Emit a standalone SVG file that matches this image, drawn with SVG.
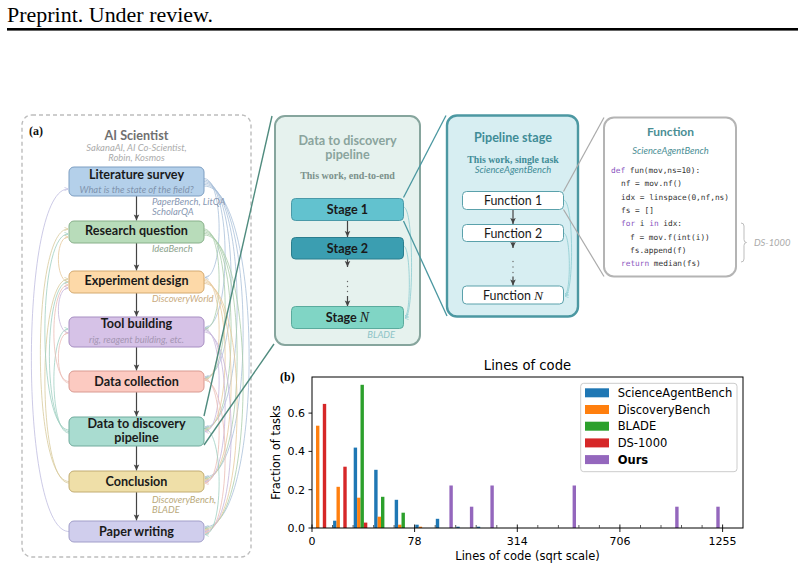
<svg xmlns="http://www.w3.org/2000/svg" width="804" height="570" viewBox="0 0 804 570">
<style>
.t{font-family:Lato,"Liberation Sans",sans-serif}
.b{font-weight:bold}
.it{font-style:italic}
.box{font-family:Lato,"Liberation Sans",sans-serif;font-weight:bold;font-size:12.6px;fill:#1a1a1a;text-anchor:middle}
.sub{font-family:Lato,"Liberation Sans",sans-serif;font-style:italic;font-size:9.4px;text-anchor:middle}
.bench{font-family:Lato,"Liberation Sans",sans-serif;font-style:italic;font-size:9.4px}
.srf{font-family:"Liberation Serif",serif}
.code{font-family:"DejaVu Sans Mono",monospace;font-size:7.8px;fill:#333}
.kw{fill:#8a55c0}
.ar{stroke:#444;stroke-width:1.2;fill:none;marker-end:url(#ah)}
.cv{fill:none;stroke-width:0.8}
.mpl{font-family:"DejaVu Sans",sans-serif;fill:#000}
.tk{stroke:#000;stroke-width:0.9}
</style>
<defs>
<marker id="ah" viewBox="0 0 8 8" refX="7.5" refY="4" markerWidth="6.5" markerHeight="6.5" markerUnits="userSpaceOnUse" orient="auto"><path d="M0,0.6 L7.5,4 L0,7.4 L1.8,4 Z" fill="#444"/></marker>
<marker id="m-b" viewBox="0 0 6 6" refX="5.5" refY="3" markerWidth="4.5" markerHeight="4.5" markerUnits="userSpaceOnUse" orient="auto"><path d="M0.5,0.5 L5.5,3 L0.5,5.5" fill="none" stroke="#a9c0d9" stroke-width="0.9"/></marker>
<marker id="m-g" viewBox="0 0 6 6" refX="5.5" refY="3" markerWidth="4.5" markerHeight="4.5" markerUnits="userSpaceOnUse" orient="auto"><path d="M0.5,0.5 L5.5,3 L0.5,5.5" fill="none" stroke="#a9cdaa" stroke-width="0.9"/></marker>
<marker id="m-o" viewBox="0 0 6 6" refX="5.5" refY="3" markerWidth="4.5" markerHeight="4.5" markerUnits="userSpaceOnUse" orient="auto"><path d="M0.5,0.5 L5.5,3 L0.5,5.5" fill="none" stroke="#e6c99c" stroke-width="0.9"/></marker>
<marker id="m-p" viewBox="0 0 6 6" refX="5.5" refY="3" markerWidth="4.5" markerHeight="4.5" markerUnits="userSpaceOnUse" orient="auto"><path d="M0.5,0.5 L5.5,3 L0.5,5.5" fill="none" stroke="#c6b5da" stroke-width="0.9"/></marker>
<marker id="m-r" viewBox="0 0 6 6" refX="5.5" refY="3" markerWidth="4.5" markerHeight="4.5" markerUnits="userSpaceOnUse" orient="auto"><path d="M0.5,0.5 L5.5,3 L0.5,5.5" fill="none" stroke="#ebbdb5" stroke-width="0.9"/></marker>
<marker id="m-t" viewBox="0 0 6 6" refX="5.5" refY="3" markerWidth="4.5" markerHeight="4.5" markerUnits="userSpaceOnUse" orient="auto"><path d="M0.5,0.5 L5.5,3 L0.5,5.5" fill="none" stroke="#9fcfc2" stroke-width="0.9"/></marker>
<marker id="m-y" viewBox="0 0 6 6" refX="5.5" refY="3" markerWidth="4.5" markerHeight="4.5" markerUnits="userSpaceOnUse" orient="auto"><path d="M0.5,0.5 L5.5,3 L0.5,5.5" fill="none" stroke="#d8ca9c" stroke-width="0.9"/></marker>
<marker id="m-l" viewBox="0 0 6 6" refX="5.5" refY="3" markerWidth="4.5" markerHeight="4.5" markerUnits="userSpaceOnUse" orient="auto"><path d="M0.5,0.5 L5.5,3 L0.5,5.5" fill="none" stroke="#bfbde0" stroke-width="0.9"/></marker>
<marker id="m-c" viewBox="0 0 6 6" refX="5.5" refY="3" markerWidth="4.5" markerHeight="4.5" markerUnits="userSpaceOnUse" orient="auto"><path d="M0.5,0.5 L5.5,3 L0.5,5.5" fill="none" stroke="#8ccbd1" stroke-width="0.9"/></marker>
</defs>
<rect width="804" height="570" fill="#fff"/>

<!-- header -->
<text x="7" y="21.5" class="srf" font-size="21" textLength="206" lengthAdjust="spacingAndGlyphs" fill="#000">Preprint. Under review.</text>
<rect x="7" y="28" width="791" height="2.6" fill="#000"/>

<!-- panel (a) frame -->
<g id="panel-a">
<rect x="22" y="115" width="229" height="442" rx="10" fill="none" stroke="#bdbdbd" stroke-width="1.4" stroke-dasharray="4,3"/>
<text x="29" y="135" class="srf b" font-size="12" fill="#111">(a)</text>
<text x="136.5" y="140" class="t b" font-size="12.6" fill="#707070" text-anchor="middle">AI Scientist</text>
<text x="136.5" y="151.3" class="sub" fill="#ababab">SakanaAI, AI Co-Scientist,</text>
<text x="136.5" y="161" class="sub" fill="#ababab">Robin, Kosmos</text>
</g>

<!-- container panels -->
<g id="n-d2d-panel">
<rect x="275" y="116" width="145" height="229" rx="10" fill="#e6f2ee" stroke="#86a59d" stroke-width="2"/>
<text x="347.5" y="145" class="t b" font-size="12.6" fill="#8aa49d" text-anchor="middle">Data to discovery</text>
<text x="347.5" y="158.5" class="t b" font-size="12.6" fill="#8aa49d" text-anchor="middle">pipeline</text>
<text x="347.5" y="178.5" class="srf b" font-size="10" fill="#7b918b" text-anchor="middle">This work, end-to-end</text>
<text x="395" y="337.5" class="bench" font-size="9.8" fill="#8cc3c6" text-anchor="end">BLADE</text>
</g>
<g id="n-stage-panel">
<rect x="447" y="115.5" width="131" height="201" rx="10" fill="#d7eef2" stroke="#4c98a2" stroke-width="2.4"/>
<text x="513" y="142" class="t b" font-size="12.6" fill="#3f8c97" text-anchor="middle">Pipeline stage</text>
<text x="513" y="163" class="srf b" font-size="9.8" fill="#3f8c97" text-anchor="middle">This work, single task</text>
<text x="513" y="173" class="sub" fill="#3f8c97">ScienceAgentBench</text>
</g>
<g id="n-function">
<rect x="604" y="117.5" width="132" height="159" rx="10" fill="#fff" stroke="#b4b4b4" stroke-width="2"/>
<text x="670.5" y="135.5" class="t b" font-size="12" fill="#4a8e94" text-anchor="middle">Function</text>
<text x="670.5" y="153.5" class="sub" font-size="9.7" fill="#4a8e94">ScienceAgentBench</text>
<text x="611" y="173" class="code"><tspan class="kw">def</tspan> fun(mov,ns=10):</text>
<text x="621" y="186.3" class="code">nf = mov.nf()</text>
<text x="621" y="199.6" class="code">idx = linspace(0,nf,ns)</text>
<text x="621" y="212.9" class="code">fs = []</text>
<text x="621" y="226.2" class="code"><tspan class="kw">for</tspan> i <tspan class="kw">in</tspan> idx:</text>
<text x="630" y="239.5" class="code">f = mov.f(int(i))</text>
<text x="630" y="252.8" class="code">fs.append(f)</text>
<text x="621" y="266.1" class="code"><tspan class="kw">return</tspan> median(fs)</text>
</g>
<g id="n-ds1000">
<path d="M741,223 Q744,223 744,226 L744,239.5 Q744,242.5 746.5,242.5 Q744,242.5 744,245.5 L744,259 Q744,262 741,262" fill="none" stroke="#bdbdbd" stroke-width="1"/>
<text x="754" y="245.5" class="bench" font-size="9.8" fill="#aaaaaa">DS-1000</text>
</g>

<g id="connectors">
<g class="cv">
<path d="M204,178.5 C224,178.5 224,277.5 205,277.5" stroke="#a9c0d9" marker-end="url(#m-b)"/>
<path d="M204,180 C232,180 232,327.5 205,327.5" stroke="#a9c0d9" marker-end="url(#m-b)"/>
<path d="M204,181.5 C240,181.5 240,377 205,377" stroke="#a9c0d9" marker-end="url(#m-b)"/>
<path d="M204,183 C248,183 248,427 205,427" stroke="#a9c0d9" marker-end="url(#m-b)"/>
<path d="M204,184.5 C256,184.5 256,477 205,477" stroke="#a9c0d9" marker-end="url(#m-b)"/>
<path d="M204,186 C264,186 264,527 205,527" stroke="#a9c0d9" marker-end="url(#m-b)"/>
<path d="M204,229 C224,229 224,329 205,329" stroke="#a9cdaa" marker-end="url(#m-g)"/>
<path d="M204,230.5 C232,230.5 232,378.5 205,378.5" stroke="#a9cdaa" marker-end="url(#m-g)"/>
<path d="M204,232 C240,232 240,428.5 205,428.5" stroke="#a9cdaa" marker-end="url(#m-g)"/>
<path d="M204,233.5 C248,233.5 248,478.5 205,478.5" stroke="#a9cdaa" marker-end="url(#m-g)"/>
<path d="M204,235 C256,235 256,528.5 205,528.5" stroke="#a9cdaa" marker-end="url(#m-g)"/>
<path d="M204,279 C224,279 224,380 205,380" stroke="#e6c99c" marker-end="url(#m-o)"/>
<path d="M204,280.5 C232,280.5 232,430 205,430" stroke="#e6c99c" marker-end="url(#m-o)"/>
<path d="M204,282 C240,282 240,480 205,480" stroke="#e6c99c" marker-end="url(#m-o)"/>
<path d="M204,283.5 C248,283.5 248,530 205,530" stroke="#e6c99c" marker-end="url(#m-o)"/>
<path d="M204,329 C224,329 224,431.5 205,431.5" stroke="#c6b5da" marker-end="url(#m-p)"/>
<path d="M204,330.5 C232,330.5 232,481.5 205,481.5" stroke="#c6b5da" marker-end="url(#m-p)"/>
<path d="M204,332 C240,332 240,531.5 205,531.5" stroke="#c6b5da" marker-end="url(#m-p)"/>
<path d="M204,378.5 C224,378.5 224,483 205,483" stroke="#ebbdb5" marker-end="url(#m-r)"/>
<path d="M204,380 C232,380 232,533 205,533" stroke="#ebbdb5" marker-end="url(#m-r)"/>
<path d="M204,428.5 C224,428.5 224,534.5 205,534.5" stroke="#9fcfc2" marker-end="url(#m-t)"/>
<path d="M69,531.5 C19,531.5 19,189 68,189" stroke="#bfbde0" marker-end="url(#m-l)"/>
<path d="M69,481.5 C31,481.5 31,229 68,229" stroke="#d8ca9c" marker-end="url(#m-y)"/>
<path d="M69,483 C37,483 37,279 68,279" stroke="#d8ca9c" marker-end="url(#m-y)"/>
<path d="M69,430 C37,430 37,234 68,234" stroke="#9fcfc2" marker-end="url(#m-t)"/>
<path d="M69,431.5 C43,431.5 43,282 68,282" stroke="#9fcfc2" marker-end="url(#m-t)"/>
<path d="M69,433 C49,433 49,329 68,329" stroke="#9fcfc2" marker-end="url(#m-t)"/>
<path d="M69,381.5 C49,381.5 49,285 68,285" stroke="#ebbdb5" marker-end="url(#m-r)"/>
<path d="M69,383 C55,383 55,333 68,333" stroke="#ebbdb5" marker-end="url(#m-r)"/>
<path d="M69,333 C55,333 55,288 68,288" stroke="#c6b5da" marker-end="url(#m-p)"/>
<path d="M69,282 C55,282 55,237 68,237" stroke="#e6c99c" marker-end="url(#m-o)"/>
<path d="M403.5,207 C414,207 414,318 405,318" stroke="#8ccbd1" marker-end="url(#m-c)"/>
<path d="M403.5,246 C411,246 411,316 405,316" stroke="#8ccbd1" marker-end="url(#m-c)"/>
<path d="M563.5,200 C574,200 574,296 565,296" stroke="#8ccbd1" marker-end="url(#m-c)"/>
<path d="M563.5,233 C571,233 571,294 565,294" stroke="#8ccbd1" marker-end="url(#m-c)"/>
</g>
<path class="ar" d="M136.5,196 V220.5"/>
<path class="ar" d="M136.5,243 V270.5"/>
<path class="ar" d="M136.5,293 V316.5"/>
<path class="ar" d="M136.5,347 V370.5"/>
<path class="ar" d="M136.5,392 V416.5"/>
<path class="ar" d="M136.5,446 V470.5"/>
<path class="ar" d="M136.5,492 V520.5"/>
<path class="ar" d="M347.5,220 V237"/>
<path class="ar" d="M347.5,259 V267"/>
<path class="ar" d="M347.5,296 V306.5"/>
<path class="ar" d="M513,209.5 V224"/>
<path class="ar" d="M513,241.5 V248"/>
<path class="ar" d="M513,276.5 V285.5"/>
<g fill="#666">
<circle cx="347.5" cy="281.5" r="0.7"/><circle cx="347.5" cy="286.5" r="0.7"/><circle cx="347.5" cy="291.5" r="0.7"/>
<circle cx="513" cy="261.5" r="0.7"/><circle cx="513" cy="267" r="0.7"/><circle cx="513" cy="272.5" r="0.7"/>
</g>
<path d="M204,416 L272,116" stroke="#4f8b7e" stroke-width="1.4" fill="none"/>
<path d="M204,445 L274,344" stroke="#4f8b7e" stroke-width="1.4" fill="none"/>
<path d="M403.5,197.5 L446,115.5" stroke="#4a97a0" stroke-width="1.3" fill="none"/>
<path d="M403.5,221 L447,316" stroke="#4a97a0" stroke-width="1.3" fill="none"/>
<path d="M563.5,191.5 L604,117.5" stroke="#aaaaaa" stroke-width="1.2" fill="none"/>
<path d="M563.5,209.5 L604,276.5" stroke="#aaaaaa" stroke-width="1.2" fill="none"/>
</g>

<g id="n-literature">
<rect x="69" y="167" width="135" height="29" rx="5" fill="#b4d0ea" stroke="#7d9ec2" stroke-width="1"/>
<text x="136.5" y="178.5" class="box">Literature survey</text>
<text x="136.5" y="192.5" class="sub" font-size="10" fill="#7f93ad">What is the state of the field?</text>
<text x="152" y="204.5" class="bench" fill="#8797b2">PaperBench, LitQA</text>
<text x="152" y="214.5" class="bench" fill="#8797b2">ScholarQA</text>
</g>
<g id="n-research">
<rect x="69" y="221" width="135" height="22" rx="5" fill="#b8dcba" stroke="#88b08a" stroke-width="1"/>
<text x="136.5" y="235" class="box">Research question</text>
<text x="152" y="252" class="bench" fill="#8ea48e">IdeaBench</text>
</g>
<g id="n-experiment">
<rect x="69" y="271" width="135" height="22" rx="5" fill="#fdd9a8" stroke="#d4aa70" stroke-width="1"/>
<text x="136.5" y="285" class="box">Experiment design</text>
<text x="152" y="302" class="bench" fill="#c9ab80">DiscoveryWorld</text>
</g>
<g id="n-tool">
<rect x="69" y="317" width="135" height="30" rx="5" fill="#d6c2e7" stroke="#a78ec2" stroke-width="1"/>
<text x="136.5" y="328" class="box">Tool building</text>
<text x="136.5" y="343" class="sub" fill="#a596b3">rig, reagent building, etc.</text>
</g>
<g id="n-collection">
<rect x="69" y="371" width="135" height="21" rx="5" fill="#fccac1" stroke="#d99a91" stroke-width="1"/>
<text x="136.5" y="385.5" class="box">Data collection</text>
</g>
<g id="n-pipeline">
<rect x="69" y="417" width="135" height="29" rx="5" fill="#a9dcd0" stroke="#70ab9d" stroke-width="1"/>
<text x="136.5" y="428" class="box">Data to discovery</text>
<text x="136.5" y="441.5" class="box">pipeline</text>
</g>
<g id="n-conclusion">
<rect x="69" y="471" width="135" height="21" rx="5" fill="#efdfa8" stroke="#c2ac72" stroke-width="1"/>
<text x="136.5" y="485.5" class="box">Conclusion</text>
<text x="152" y="502.5" class="bench" fill="#b9a97b">DiscoveryBench,</text>
<text x="152" y="512.8" class="bench" fill="#b9a97b">BLADE</text>
</g>
<g id="n-paper">
<rect x="69" y="521" width="135" height="21" rx="5" fill="#d0ceed" stroke="#a19ec9" stroke-width="1"/>
<text x="136.5" y="535.5" class="box">Paper writing</text>
</g>

<g id="n-stage1">
<rect x="291.5" y="198.5" width="112" height="22" rx="4" fill="#62c2cf" stroke="#4a9aa8" stroke-width="1"/>
<text x="347.5" y="214" class="box" font-size="13.2">Stage 1</text>
</g>
<g id="n-stage2">
<rect x="291.5" y="237.5" width="112" height="21.5" rx="4" fill="#3b9eb1" stroke="#2b7e8e" stroke-width="1"/>
<text x="347.5" y="252.5" class="box" font-size="13.2">Stage 2</text>
</g>
<g id="n-stageN">
<rect x="291.5" y="306.5" width="112" height="22" rx="4" fill="#80d5c5" stroke="#5aab9d" stroke-width="1"/>
<text x="347.5" y="322" class="box" font-size="13.2">Stage <tspan class="srf it" font-weight="normal" font-size="14">N</tspan></text>
</g>

<g id="n-func1">
<rect x="462.5" y="191.5" width="101" height="18" rx="4" fill="#fff" stroke="#5aa1ab" stroke-width="1"/>
<text x="513" y="205" class="t" font-size="12.4" fill="#1a1a1a" text-anchor="middle">Function 1</text>
</g>
<g id="n-func2">
<rect x="462.5" y="224.5" width="101" height="17" rx="4" fill="#fff" stroke="#5aa1ab" stroke-width="1"/>
<text x="513" y="237.5" class="t" font-size="12.4" fill="#1a1a1a" text-anchor="middle">Function 2</text>
</g>
<g id="n-funcN">
<rect x="462.5" y="286" width="101" height="18" rx="4" fill="#fff" stroke="#5aa1ab" stroke-width="1"/>
<text x="513" y="299.5" class="t" font-size="12.4" fill="#1a1a1a" text-anchor="middle">Function <tspan class="srf it" font-size="13.5">N</tspan></text>
</g>

<g id="chart">
<text x="280" y="380.5" class="srf b" font-size="12" fill="#000">(b)</text>
<text x="527.5" y="370" class="mpl" font-size="13.2" text-anchor="middle">Lines of code</text>
<g fill="#1f77b4">
<rect x="333.1" y="520.7" width="3.4" height="7.3"/>
<rect x="353.7" y="447.6" width="3.4" height="80.4"/>
<rect x="374.2" y="469.8" width="3.4" height="58.2"/>
<rect x="394.7" y="499.8" width="3.4" height="28.2"/>
<rect x="415.3" y="524.7" width="3.4" height="3.3"/>
<rect x="435.8" y="518.8" width="3.4" height="9.2"/>
<rect x="456.3" y="526.7" width="3.4" height="1.3"/>
<rect x="476.8" y="526.7" width="3.4" height="1.3"/>
</g>
<g fill="#ff7f0e">
<rect x="316" y="425.7" width="3.4" height="102.3"/>
<rect x="336.5" y="486.8" width="3.4" height="41.2"/>
<rect x="357.1" y="497.7" width="3.4" height="30.3"/>
<rect x="377.6" y="516.7" width="3.4" height="11.3"/>
<rect x="398.1" y="524.7" width="3.4" height="3.3"/>
<rect x="418.7" y="526.7" width="3.4" height="1.3"/>
</g>
<g fill="#2ca02c">
<rect x="360.5" y="384.8" width="3.4" height="143.2"/>
<rect x="381" y="496.8" width="3.4" height="31.2"/>
<rect x="401.5" y="512.7" width="3.4" height="15.3"/>
</g>
<g fill="#d62728">
<rect x="322.8" y="403.9" width="3.4" height="124.1"/>
<rect x="343.3" y="466.7" width="3.4" height="61.3"/>
<rect x="363.9" y="522.6" width="3.4" height="5.4"/>
</g>
<g fill="#9467bd">
<rect x="449.4" y="485.5" width="3.4" height="42.5"/>
<rect x="469.9" y="506.7" width="3.4" height="21.3"/>
<rect x="490.4" y="485.5" width="3.4" height="42.5"/>
<rect x="572.6" y="485.5" width="3.4" height="42.5"/>
<rect x="675.2" y="506.7" width="3.4" height="21.3"/>
<rect x="716.3" y="506.7" width="3.4" height="21.3"/>
</g>
<rect x="312" y="377" width="431" height="151" fill="none" stroke="#000" stroke-width="1"/>
<g stroke="#333" stroke-width="0.8">
<path d="M332.5,528V525 M353.1,528V525 M373.6,528V525 M394.1,528V525 M435.2,528V525 M455.7,528V525 M476.2,528V525 M496.8,528V525 M537.8,528V525 M558.4,528V525 M578.9,528V525 M599.4,528V525 M640.5,528V525 M661,528V525 M681.5,528V525 M702.1,528V525"/>
</g>
<g class="tk">
<path d="M312,524.5V532 M414.6,524.5V532 M517.3,524.5V532 M619.9,524.5V532 M722.6,524.5V532"/>
<path d="M308.5,528H312 M308.5,489.7H312 M308.5,451.4H312 M308.5,413.1H312"/>
</g>
<g class="mpl" font-size="11" text-anchor="middle">
<text x="312" y="545">0</text>
<text x="414.6" y="545">78</text>
<text x="517.3" y="545">314</text>
<text x="619.9" y="545">706</text>
<text x="722.6" y="545">1255</text>
</g>
<g class="mpl" font-size="11" text-anchor="end">
<text x="305" y="532">0.0</text>
<text x="305" y="493.7">0.2</text>
<text x="305" y="455.4">0.4</text>
<text x="305" y="417.1">0.6</text>
</g>
<text x="527.5" y="560" class="mpl" font-size="11.5" text-anchor="middle">Lines of code (sqrt scale)</text>
<text transform="translate(280,452.5) rotate(-90)" class="mpl" font-size="11.5" text-anchor="middle">Fraction of tasks</text>
<rect x="580.7" y="383.3" width="156.3" height="88.4" rx="3" fill="#fff" fill-opacity="0.8" stroke="#cccccc" stroke-width="1"/>
<rect x="585" y="388.3" width="24" height="9" fill="#1f77b4"/>
<rect x="585" y="405" width="24" height="9" fill="#ff7f0e"/>
<rect x="585" y="421.7" width="24" height="9" fill="#2ca02c"/>
<rect x="585" y="438.4" width="24" height="9" fill="#d62728"/>
<rect x="585" y="455.1" width="24" height="9" fill="#9467bd"/>
<g class="mpl" font-size="11.5">
<text x="617.7" y="396.8">ScienceAgentBench</text>
<text x="617.7" y="413.5">DiscoveryBench</text>
<text x="617.7" y="430.2">BLADE</text>
<text x="617.7" y="446.9">DS-1000</text>
<text x="617.7" y="463.6" font-weight="bold">Ours</text>
</g>
</g>
</svg>
